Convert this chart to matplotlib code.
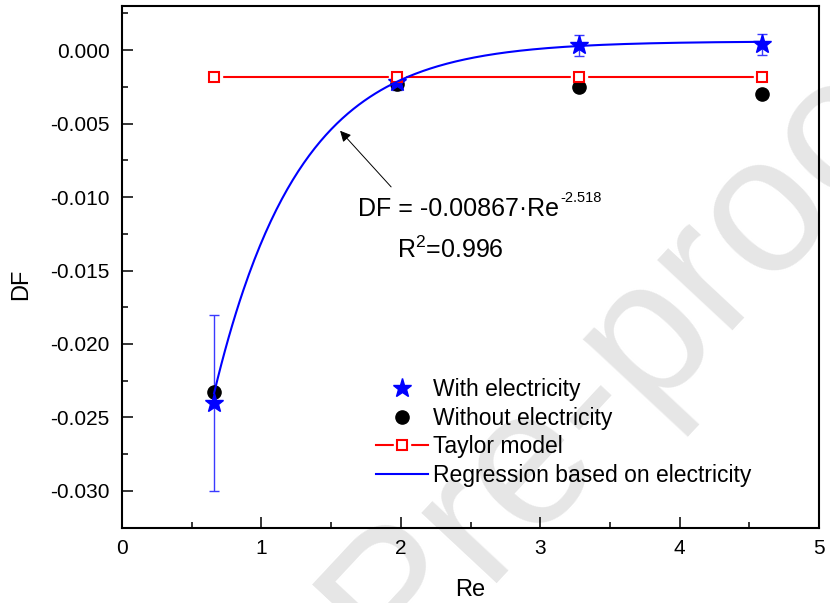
import numpy as np
import matplotlib
matplotlib.use("Agg")
import matplotlib.pyplot as plt
from matplotlib.lines import Line2D
from matplotlib.legend_handler import HandlerTuple

# ---- data ----
re_vals = [0.66, 1.97, 3.28, 4.59]
df_with = [-0.0240, -0.0022, 0.00033, 0.00040]
df_with_err = [0.0060, 0.0005, 0.0007, 0.0007]
df_without = [-0.0233, -0.0023, -0.0025, -0.0030]
df_taylor = [-0.0018, -0.0018, -0.0018, -0.0018]

# regression curve parameters (read to follow the drawn curve)
fit_offset = 0.0006
fit_amp = -0.0712
fit_rate = 1.65
fit_range = (0.66, 4.59)

x_ticks = [0, 1, 2, 3, 4, 5]
y_ticks = [0.000, -0.005, -0.010, -0.015, -0.020, -0.025, -0.030]

labels = ["With electricity", "Without electricity", "Taylor model",
          "Regression based on electricity"]

plt.rcParams['font.family'] = ['Liberation Sans', 'DejaVu Sans']
plt.rcParams['mathtext.fontset'] = 'custom'
plt.rcParams['mathtext.rm'] = 'Liberation Sans'
plt.rcParams['mathtext.it'] = 'Liberation Sans:italic'

fig = plt.figure(figsize=(8.3, 6.03), dpi=100)
fig.patch.set_facecolor('white')

# watermark
fig.text(0.476, -0.121, "Pre-proof", fontsize=140, color='#e6e6e6',
         rotation=47, rotation_mode='anchor', ha='left', va='baseline',
         zorder=-1)

ax = fig.add_axes([0.147, 0.125, 0.840, 0.865])
ax.set_facecolor('none')

BLUE = '#0000ff'
RED = '#ff0000'

# Taylor model: line with gaps at markers
ax.plot(re_vals, df_taylor, color=RED, lw=1.5, zorder=2)
ax.plot(re_vals, df_taylor, ls='none', marker='s', ms=12, mfc='white',
        mec='white', zorder=2.1)

# error bars
ax.errorbar(re_vals, df_with, yerr=df_with_err, fmt='none', ecolor='#3a3aff',
            elinewidth=1.0, capsize=3.6, capthick=1.0, zorder=2.5)

ax.plot(re_vals, df_without, ls='none', marker='o', ms=9.5, color='black',
        zorder=3)
ax.plot(re_vals, df_with, ls='none', marker='*', ms=14, color=BLUE, zorder=3.2)
ax.plot(re_vals, df_taylor, ls='none', marker='s', ms=7, mfc='white',
        mec=RED, mew=1.5, zorder=3.5)

xf = np.linspace(fit_range[0], fit_range[1], 300)
yf = fit_offset + fit_amp * np.exp(-fit_rate * xf)
ax.plot(xf, yf, color=BLUE, lw=1.5, zorder=4)

ax.set_xlim(0, 5)
ax.set_ylim(-0.032, 0.003)
ax.set_xticks(x_ticks)
ax.set_xticklabels([str(v) for v in x_ticks])
ax.set_yticks(y_ticks)
ax.set_yticklabels([f"{v:.3f}" for v in y_ticks])
ax.set_xticks(np.arange(0.5, 5, 1.0), minor=True)
ax.set_yticks(np.arange(-0.0325, 0.003, 0.005), minor=True)

ax.tick_params(which='both', direction='in', top=False, right=False,
               labelsize=15, width=1.1, color='black')
ax.tick_params(which='major', length=8)
ax.tick_params(which='minor', length=4.5)
ax.tick_params(axis='y', pad=9)
ax.tick_params(axis='x', pad=8)
for s in ax.spines.values():
    s.set_linewidth(1.5)

ax.set_xlabel("Re", fontsize=17, labelpad=15)
ax.set_ylabel("DF", fontsize=17)
ax.yaxis.set_label_coords(-0.129, 0.466)

# annotation
ax.annotate("", xy=(1.564, -0.00549), xytext=(1.93, -0.00931),
            arrowprops=dict(arrowstyle='-|>', color='black', lw=0.7,
                            mutation_scale=16, shrinkA=0, shrinkB=0),
            zorder=5)
t1 = ax.text(1.693, -0.01132, "DF = -0.00867\u00b7Re",
             fontsize=18, va='baseline', ha='left', zorder=5)
ax.annotate("-2.518", xy=(1.0, 1.0), xycoords=t1, xytext=(1, 4.5),
            textcoords='offset points', ha='left', va='top', fontsize=10.5,
            zorder=5)
ax.text(1.973, -0.01413, "$\\mathregular{R^{2}}$=0.996",
        fontsize=18, va='baseline', ha='left', zorder=5)

# legend
h_star = Line2D([], [], ls='none', marker='*', ms=14, color=BLUE)
h_dot = Line2D([], [], ls='none', marker='o', ms=9.5, color='black')
h_tl = Line2D([], [], color=RED, lw=1.5)
h_tw = Line2D([], [], ls='none', marker='s', ms=12, mfc='white', mec='white')
h_ts = Line2D([], [], ls='none', marker='s', ms=7, mfc='white', mec=RED, mew=1.5)
h_fit = Line2D([], [], color=BLUE, lw=1.5)
leg = ax.legend([h_star, h_dot, (h_tl, h_tw, h_ts), h_fit], labels,
                handler_map={tuple: HandlerTuple(ndivide=1, pad=0)},
                loc='upper left', bbox_to_anchor=(0.365, 0.286),
                frameon=False, fontsize=16.5, handlelength=2.23,
                handletextpad=0.25, labelspacing=0.24, borderpad=0,
                borderaxespad=0)
leg.set_zorder(6)

fig.savefig("out.png", dpi=100, facecolor='white')
